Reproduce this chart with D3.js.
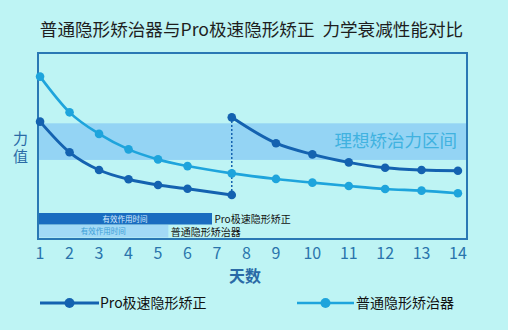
<!DOCTYPE html>
<html><head><meta charset="utf-8">
<script src="https://cdn.jsdelivr.net/npm/d3@7"></script>
<style>
html,body{margin:0;padding:0;background:#bef4f4;}
svg{display:block;}
text{font-family:"Noto Sans CJK SC","Noto Sans",sans-serif;}
</style></head><body>
<svg id="c" width="508" height="330"></svg>
<script>
const title = "普通隐形矫治器与Pro极速隐形矫正  力学衰减性能对比";
const dayTicks = [1,2,3,4,5,6,7,8,9,10,11,12,13,14];
const normalDays = [1,2,3,4,5,6,7.5,9,10,11,12,13,14];
const normalValues = [87.3,68.1,56.5,48.2,42.8,39.2,35.3,32.3,30.3,28.5,26.9,26.0,24.6];
const proDays1 = [1,2,3,4,5,6,7.5];
const proValues1 = [63.1,46.6,37.1,32.1,29.0,27.0,23.7];
const proDays2 = [7.5,9,10,11,12,13,14];
const proValues2 = [65.4,51.5,45.5,41.2,38.3,37.1,36.7];
const idealBand = [42.5, 62.2];
const idealLabel = "理想矫治力区间";
const effLabel = "有效作用时间";
const proEffEnd = 6.83, normalEffEnd = 5.35;
const seriesNames = ["Pro极速隐形矫正","普通隐形矫治器"];
const xLabel = "天数", yLabel = "力值";

const svg = d3.select("#c");
const L=38, R=467, T=53, B=239;
const x = d3.scaleLinear().domain([0.93, 9, 14.25]).range([L, 276, R]);
const y = d3.scaleLinear().domain([0,100]).range([B, T]);
const dark="#1462b0", light="#1ea4dc";

svg.append("text").attr("x",251.5).attr("y",36).attr("text-anchor","middle")
  .attr("font-size",17.6).attr("fill","#1e1e1e").attr("xml:space","preserve").text(title);

// ideal band
svg.append("rect").attr("x",L).attr("y",y(idealBand[1])).attr("width",R-L)
  .attr("height",y(idealBand[0])-y(idealBand[1])).attr("fill","#94d4f4");
svg.append("text").attr("x",457).attr("y",146.5).attr("text-anchor","end")
  .attr("font-size",17.5).attr("fill","#40b2e0").text(idealLabel);

// effective bars
svg.append("rect").attr("x",L).attr("y",213).attr("width",x(proEffEnd)-L).attr("height",11.5).attr("fill","#1a6cc0");
svg.append("text").attr("x",(L+x(proEffEnd))/2).attr("y",221.5).attr("text-anchor","middle")
  .attr("font-size",7.5).attr("fill","#d8ecff").text(effLabel);
svg.append("rect").attr("x",L).attr("y",225).attr("width",x(normalEffEnd)-L).attr("height",12.5).attr("fill","#a2daf6");
svg.append("text").attr("x",(L+x(normalEffEnd))/2).attr("y",234).attr("text-anchor","middle")
  .attr("font-size",7.5).attr("fill","#3c9ed6").text(effLabel);
svg.append("text").attr("x",x(proEffEnd)+2.5).attr("y",222.5).attr("font-size",10).attr("fill","#111").text(seriesNames[0]);
svg.append("text").attr("x",x(normalEffEnd)+2.5).attr("y",235.5).attr("font-size",10).attr("fill","#111").text(seriesNames[1]);

// frame
svg.append("rect").attr("x",L).attr("y",T).attr("width",R-L).attr("height",B-T)
  .attr("fill","none").attr("stroke","#2a78b4").attr("stroke-width",2);

const line = d3.line().x(d=>x(d[0])).y(d=>y(d[1])).curve(d3.curveMonotoneX);
const nData = d3.zip(normalDays, normalValues);
const p1 = d3.zip(proDays1, proValues1), p2 = d3.zip(proDays2, proValues2);

svg.append("path").attr("d",line(nData)).attr("fill","none").attr("stroke",light).attr("stroke-width",2.6);
svg.append("line").attr("x1",x(7.5)).attr("x2",x(7.5)).attr("y1",y(proValues1[6])).attr("y2",y(proValues2[0]))
  .attr("stroke",dark).attr("stroke-width",1.5).attr("stroke-dasharray","2,2");
[p1,p2].forEach(p=>svg.append("path").attr("d",line(p)).attr("fill","none").attr("stroke",dark).attr("stroke-width",3));

svg.selectAll(".np").data(nData).join("circle").attr("cx",d=>x(d[0])).attr("cy",d=>y(d[1])).attr("r",4.3).attr("fill",light);
svg.selectAll(".pp").data(p1.concat(p2)).join("circle").attr("cx",d=>x(d[0])).attr("cy",d=>y(d[1])).attr("r",4.3).attr("fill",dark);

// x tick labels
svg.selectAll(".xt").data(dayTicks).join("text").attr("x",d=>x(d)).attr("y",259)
  .attr("text-anchor","middle").attr("font-family","Liberation Sans, Arial, sans-serif")
  .attr("font-size",16).attr("fill","#2a74ac").text(d=>d);
svg.append("text").attr("x",245).attr("y",281.5).attr("text-anchor","middle").attr("font-size",16)
  .attr("font-weight","bold").attr("fill","#2a6aa6").text(xLabel);
svg.append("text").attr("x",20.5).attr("y",148.5).attr("text-anchor","middle")
  .attr("writing-mode","tb").attr("letter-spacing",2.7)
  .attr("font-size",15).attr("fill","#2a6aa6").text(yLabel);

// legend
const leg=[{x1:40,x2:99,c:dark,w:3,t:seriesNames[0],tx:100},{x1:297,x2:354,c:light,w:2.6,t:seriesNames[1],tx:356}];
leg.forEach(l=>{
  svg.append("line").attr("x1",l.x1).attr("x2",l.x2).attr("y1",303).attr("y2",303).attr("stroke",l.c).attr("stroke-width",l.w);
  svg.append("circle").attr("cx",(l.x1+l.x2)/2).attr("cy",303).attr("r",5).attr("fill",l.c);
  svg.append("text").attr("x",l.tx).attr("y",308).attr("font-size",14).attr("fill","#111").text(l.t);
});
</script></body></html>
